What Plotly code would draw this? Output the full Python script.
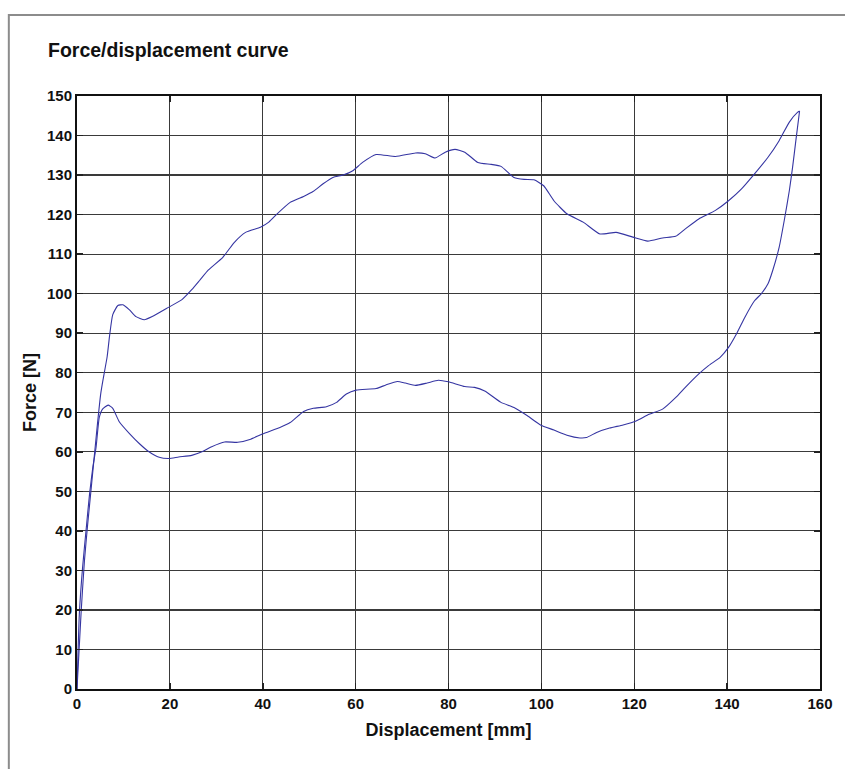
import plotly.graph_objects as go

# Loading path (upper curve)
load_disp = [0, 0.9, 1.6, 2.3, 3.0, 3.7, 4.4, 5.1, 5.6, 6.5, 7.0, 7.7, 8.8, 9.9, 11.3, 12.7,
             14.5, 16.2, 19.8, 22.6, 24.7, 26.5, 28.3, 31.4, 33.9, 36.3, 39.5, 41.3, 43.1,
             45.9, 48.8, 50.9, 53.0, 55.1, 57.3, 59.4, 61.5, 64.4, 68.6, 72.9, 75.0, 77.1,
             79.3, 81.4, 83.5, 86.3, 89.2, 91.3, 94.1, 96.3, 98.4, 100.5, 102.7, 105.5,
             109.0, 112.6, 116.1, 119.7, 122.9, 126.1, 128.9, 131.0, 133.9, 137.4, 140.3,
             143.1, 145.9, 148.8, 151.2, 153.4, 155.2, 155.6]
load_force = [0, 19.7, 32.4, 41.7, 50.1, 58.6, 67.0, 74.6, 78.2, 84.1, 89.2, 94.7, 97.0, 97.2,
              95.9, 94.2, 93.4, 94.2, 96.6, 98.5, 101.0, 103.5, 106.0, 109.2, 113.0, 115.5,
              116.8, 118.1, 120.2, 123.1, 124.6, 125.9, 127.8, 129.4, 130.0, 131.1, 133.2,
              135.2, 134.7, 135.6, 135.4, 134.3, 135.8, 136.5, 135.8, 133.2, 132.7, 132.2,
              129.4, 128.9, 128.8, 127.3, 123.5, 120.2, 118.1, 115.1, 115.5, 114.3, 113.3,
              114.1, 114.5, 116.4, 118.9, 121.0, 123.5, 126.5, 130.3, 134.5, 138.7, 143.4,
              145.9, 146.2]

# Unloading path (lower curve)
unload_disp = [155.6, 154.8, 154.1, 153.4, 152.3, 151.2, 149.8, 148.8, 147.3, 145.9, 143.8,
               142.0, 140.3, 138.5, 136.0, 133.9, 131.0, 128.9, 126.1, 123.2, 120.4, 117.6,
               114.7, 111.9, 109.7, 108.3, 105.5, 102.7, 99.8, 97.0, 94.1, 91.3, 87.8, 85.6,
               83.5, 80.0, 77.8, 75.4, 72.9, 70.7, 69.0, 66.5, 64.4, 60.1, 58.0, 55.9, 53.7,
               50.9, 48.8, 45.9, 43.8, 39.9, 37.4, 34.6, 31.8, 29.0, 26.9, 24.7, 21.9, 19.8,
               17.7, 15.5, 13.4, 11.3, 9.1, 7.7, 6.7, 5.5, 4.8, 4.1, 3.4, 2.7, 2.0, 1.2, 0.5, 0]
unload_force = [146.2, 138.7, 132.0, 126.1, 118.5, 111.7, 105.8, 102.5, 99.9, 98.2, 94.0,
                89.8, 86.4, 83.9, 81.8, 79.7, 76.3, 73.7, 70.8, 69.5, 67.8, 66.8, 66.0, 64.9,
                63.6, 63.5, 64.2, 65.5, 66.8, 69.1, 71.2, 72.5, 75.4, 76.3, 76.5, 77.7, 78.1,
                77.4, 76.8, 77.4, 77.8, 76.9, 76.0, 75.6, 74.6, 72.5, 71.4, 71.0, 70.2, 67.4,
                66.2, 64.5, 63.2, 62.4, 62.5, 61.3, 60.0, 59.1, 58.7, 58.3, 58.6, 60.0, 62.1,
                64.6, 67.6, 71.0, 71.8, 70.8, 68.7, 61.1, 56.0, 49.3, 40.8, 30.7, 18.9, 0]

x_ticks = [0, 20, 40, 60, 80, 100, 120, 140, 160]
y_ticks = [0, 10, 20, 30, 40, 50, 60, 70, 80, 90, 100, 110, 120, 130, 140, 150]

title_text = "Force/displacement curve"
x_title = "Displacement [mm]"
y_title = "Force [N]"

FONT = "Liberation Sans, Arial, Helvetica, sans-serif"
CURVE = "#3535a2"

W, H = 845, 769
ML, MR, MT, MB = 77, 16, 96, 80
PW, PH = W - ML - MR, H - MT - MB

fig = go.Figure()
for xs, ys in [(load_disp, load_force), (unload_disp, unload_force)]:
    fig.add_trace(go.Scatter(x=xs, y=ys, mode="lines",
                             line=dict(color=CURVE, width=1.1, shape="spline", smoothing=0.5),
                             hoverinfo="skip"))

axis_common = dict(
    showgrid=True, gridcolor="#3a3a3a", gridwidth=1.2,
    showline=True, linecolor="#111111", linewidth=2, mirror="ticks",
    ticks="inside", ticklen=6, tickcolor="#222222", tickwidth=1.5,
    zeroline=False,
    tickfont=dict(family=FONT, size=15, color="#111111", weight="bold"),
)

fig.update_layout(
    width=W, height=H,
    margin=dict(l=ML, r=MR, t=MT, b=MB),
    paper_bgcolor="white", plot_bgcolor="white",
    showlegend=False,
    hovermode=False,
    font=dict(family=FONT, color="#111111"),
    title=dict(text=title_text, xref="container", yref="container",
               x=48 / W, xanchor="left", y=1 - 50 / H, yanchor="middle",
               font=dict(family=FONT, size=19.5, color="#111111", weight="bold")),
    xaxis=dict(range=[0, 160], tickvals=x_ticks, ticktext=[str(v) for v in x_ticks],
               title=dict(text=x_title, standoff=12,
                          font=dict(family=FONT, size=18, color="#111111", weight="bold")),
               **axis_common),
    yaxis=dict(range=[0, 150], tickvals=y_ticks, ticktext=[str(v) for v in y_ticks],
               title=dict(text=y_title, standoff=6,
                          font=dict(family=FONT, size=18, color="#111111", weight="bold")),
               **axis_common),
    shapes=[dict(type="rect", xref="paper", yref="paper",
                 x0=(8 - ML) / PW, x1=1.2, y0=-0.3, y1=(PH + MT - 15) / PH,
                 line=dict(color="#8c8c8c", width=2), fillcolor="rgba(0,0,0,0)",
                 layer="below")],
)

fig.write_html("out.html",
               config={"displayModeBar": False, "staticPlot": True},
               post_script="document.body.style.margin='0';document.body.style.overflow='hidden';")
